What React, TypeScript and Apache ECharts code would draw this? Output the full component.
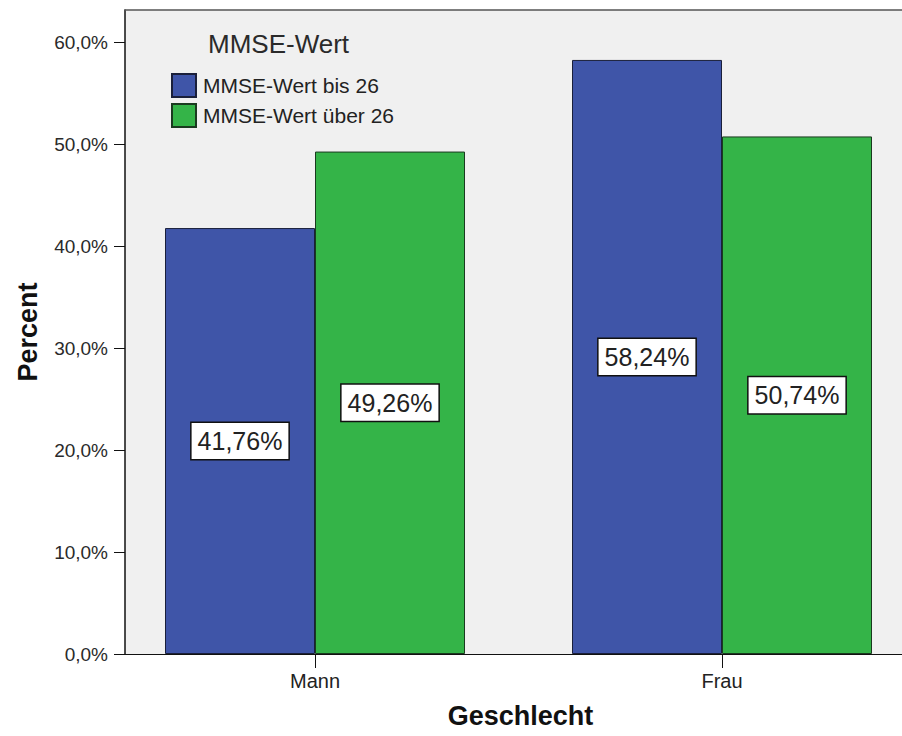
import React, { useEffect, useRef } from "react";
import * as echarts from "echarts";

const categories = ["Mann", "Frau"];
const categoryPositions = [0, 1];
const seriesNames = ["MMSE-Wert bis 26", "MMSE-Wert über 26"];
const bis26 = [41.76, 58.24];
const ueber26 = [49.26, 50.74];
const yTicks = [0, 10, 20, 30, 40, 50, 60];
const legendTitle = "MMSE-Wert";
const xName = "Geschlecht";
const yName = "Percent";

const FONT = "'Liberation Sans', Arial, sans-serif";
const fmtPct = (v: number, d: number) => v.toFixed(d).replace(".", ",") + "%";

export default function App() {
  const ref = useRef<HTMLDivElement>(null);
  useEffect(() => {
    if (!ref.current) return;
    const chart = echarts.init(ref.current, undefined, { renderer: "svg" });
    const labelCfg = {
      show: true,
      position: "inside",
      formatter: (p: any) => fmtPct(p.value[1], 2),
      backgroundColor: "#ffffff",
      borderColor: "#111111",
      borderWidth: 1.5,
      padding: [6, 6, 5, 6],
      fontSize: 25,
      color: "#222222",
      fontFamily: FONT,
    };
    chart.setOption({
      animation: false,
      backgroundColor: "#ffffff",
      textStyle: { fontFamily: FONT },
      title: {
        text: legendTitle,
        left: 208,
        top: 31,
        padding: 0,
        textStyle: { fontSize: 26, fontWeight: "normal", color: "#2a2a2a", fontFamily: FONT },
      },
      legend: {
        orient: "vertical",
        left: 171,
        top: 73,
        padding: 0,
        itemWidth: 24,
        itemHeight: 23,
        itemGap: 5,
        icon: "rect",
        data: seriesNames,
        textStyle: { fontSize: 21, color: "#222222", fontFamily: FONT, padding: [0, 0, 0, 2] },
      },
      grid: {
        left: 125,
        right: 0,
        top: 10,
        bottom: 82,
        show: true,
        backgroundColor: "#f0f0f0",
        borderWidth: 0,
      },
      xAxis: [
        {
          type: "value",
          min: -190 / 407,
          max: 1 + 180 / 407,
          name: xName,
          nameLocation: "middle",
          nameGap: 48,
          nameTextStyle: { fontSize: 27, fontWeight: "bold", color: "#111111", fontFamily: FONT, padding: [0, 0, 0, 14] },
          axisLine: { show: true, onZero: false, lineStyle: { color: "#111111", width: 1 } },
          axisTick: { show: true, length: 14, customValues: categoryPositions, lineStyle: { color: "#111111" } },
          axisLabel: {
            customValues: categoryPositions,
            formatter: (v: number) => categories[Math.round(v)] ?? "",
            fontSize: 20,
            color: "#222222",
            margin: 17,
            fontFamily: FONT,
          },
          splitLine: { show: false },
        },
        {
          type: "value",
          position: "top",
          min: -190 / 407,
          max: 1 + 180 / 407,
          axisLine: { show: true, onZero: false, lineStyle: { color: "#555555", width: 1.5 } },
          axisTick: { show: false },
          axisLabel: { show: false },
          splitLine: { show: false },
        },
      ],
      yAxis: {
        type: "value",
        min: 0,
        max: 644 / 10.2,
        name: yName,
        nameLocation: "middle",
        nameRotate: 90,
        nameGap: 84,
        nameTextStyle: { fontSize: 27, fontWeight: "bold", color: "#111111", fontFamily: FONT },
        axisLine: { show: true, onZero: false, lineStyle: { color: "#111111", width: 1.5 } },
        axisTick: { show: true, length: 11, customValues: yTicks, lineStyle: { color: "#111111" } },
        axisLabel: {
          customValues: yTicks,
          formatter: (v: number) => fmtPct(v, 1),
          fontSize: 19,
          color: "#2a2a2a",
          margin: 17,
          fontFamily: FONT,
        },
        splitLine: { show: false },
      },
      series: [
        {
          name: seriesNames[0],
          type: "bar",
          xAxisIndex: 0,
          barWidth: 150,
          barGap: "0%",
          data: categoryPositions.map((x, i) => [x, bis26[i]]),
          itemStyle: { color: "#3f55a8", borderColor: "#1a1f3a", borderWidth: 1 },
          label: labelCfg,
        },
        {
          name: seriesNames[1],
          type: "bar",
          xAxisIndex: 0,
          barWidth: 150,
          barGap: "0%",
          data: categoryPositions.map((x, i) => [x, ueber26[i]]),
          itemStyle: { color: "#34b448", borderColor: "#1a3a1f", borderWidth: 1 },
          label: labelCfg,
        },
      ],
    });
    return () => chart.dispose();
  }, []);
  return (
    <div
      ref={ref}
      style={{ position: "fixed", left: 0, top: 0, width: 902, height: 736, background: "#fff" }}
    />
  );
}
